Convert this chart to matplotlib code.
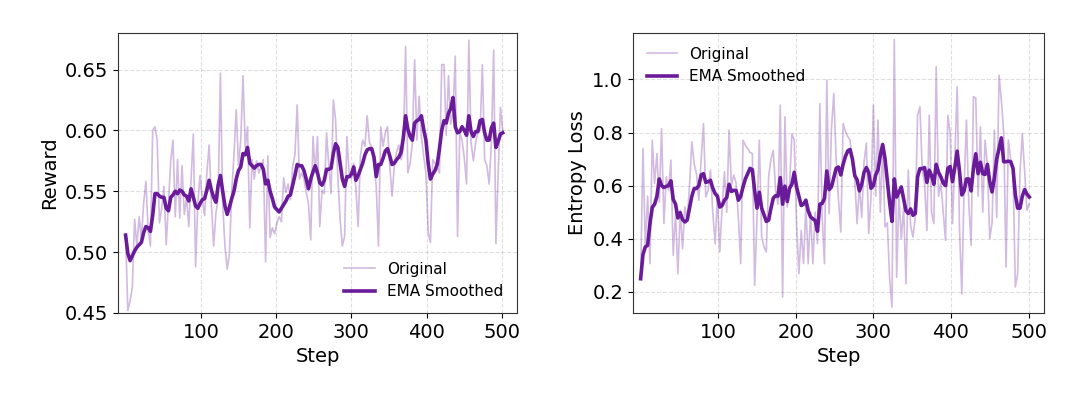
import numpy as np
import matplotlib
matplotlib.use("Agg")
import matplotlib.pyplot as plt

# training steps (shared by both panels)
steps = list(range(0, 502, 3))

# reward: raw values and EMA-smoothed values
reward_raw = [
    0.514, 0.452, 0.460, 0.471, 0.527, 0.505, 0.529, 0.511, 0.540, 0.558,
    0.518, 0.505, 0.600, 0.603, 0.592, 0.524, 0.536, 0.554, 0.506, 0.540,
    0.575, 0.592, 0.529, 0.576, 0.528, 0.571, 0.531, 0.545, 0.521, 0.560,
    0.597, 0.488, 0.540, 0.563, 0.543, 0.530, 0.565, 0.588, 0.540, 0.505,
    0.532, 0.545, 0.647, 0.540, 0.505, 0.486, 0.499, 0.549, 0.580, 0.617,
    0.571, 0.592, 0.645, 0.586, 0.603, 0.520, 0.576, 0.560, 0.575, 0.565,
    0.570, 0.576, 0.492, 0.579, 0.512, 0.520, 0.515, 0.524, 0.529, 0.525,
    0.561, 0.549, 0.556, 0.543, 0.571, 0.580, 0.621, 0.560, 0.565, 0.560,
    0.549, 0.540, 0.510, 0.595, 0.565, 0.595, 0.521, 0.551, 0.548, 0.598,
    0.571, 0.548, 0.625, 0.609, 0.562, 0.527, 0.505, 0.513, 0.595, 0.565,
    0.560, 0.573, 0.552, 0.521, 0.579, 0.592, 0.587, 0.612, 0.590, 0.586,
    0.574, 0.554, 0.505, 0.603, 0.587, 0.598, 0.603, 0.571, 0.546, 0.571,
    0.582, 0.588, 0.576, 0.585, 0.669, 0.565, 0.573, 0.590, 0.658, 0.592,
    0.628, 0.595, 0.579, 0.565, 0.516, 0.508, 0.576, 0.573, 0.570, 0.565,
    0.654, 0.654, 0.596, 0.645, 0.605, 0.616, 0.661, 0.513, 0.598, 0.592,
    0.577, 0.556, 0.674, 0.590, 0.575, 0.590, 0.598, 0.600, 0.654, 0.576,
    0.571, 0.556, 0.590, 0.666, 0.507, 0.565, 0.619, 0.600,
]
reward_ema = [
    0.514, 0.499, 0.493, 0.497, 0.501, 0.504, 0.506, 0.508, 0.516, 0.521,
    0.520, 0.517, 0.530, 0.548, 0.548, 0.546, 0.545, 0.545, 0.536, 0.534,
    0.545, 0.547, 0.550, 0.548, 0.551, 0.550, 0.547, 0.546, 0.542, 0.552,
    0.545, 0.538, 0.536, 0.540, 0.543, 0.544, 0.551, 0.559, 0.551, 0.545,
    0.541, 0.555, 0.563, 0.550, 0.538, 0.531, 0.537, 0.544, 0.550, 0.560,
    0.567, 0.570, 0.581, 0.580, 0.586, 0.573, 0.571, 0.569, 0.571, 0.572,
    0.572, 0.568, 0.556, 0.559, 0.550, 0.544, 0.537, 0.535, 0.533, 0.536,
    0.539, 0.542, 0.546, 0.547, 0.555, 0.563, 0.572, 0.571, 0.571, 0.567,
    0.560, 0.552, 0.560, 0.566, 0.571, 0.565, 0.557, 0.555, 0.559, 0.568,
    0.568, 0.569, 0.581, 0.589, 0.586, 0.573, 0.560, 0.554, 0.562, 0.562,
    0.564, 0.570, 0.559, 0.563, 0.568, 0.573, 0.580, 0.584, 0.585, 0.585,
    0.578, 0.562, 0.572, 0.572, 0.577, 0.583, 0.585, 0.579, 0.572, 0.573,
    0.576, 0.578, 0.582, 0.594, 0.612, 0.601, 0.595, 0.592, 0.606, 0.608,
    0.609, 0.612, 0.601, 0.592, 0.573, 0.560, 0.564, 0.567, 0.572, 0.585,
    0.600, 0.608, 0.606, 0.614, 0.618, 0.627, 0.603, 0.598, 0.599, 0.603,
    0.600, 0.596, 0.612, 0.599, 0.595, 0.599, 0.599, 0.608, 0.609, 0.598,
    0.592, 0.592, 0.602, 0.606, 0.586, 0.591, 0.597, 0.598,
]

# entropy loss: raw values and EMA-smoothed values
entropy_raw = [
    0.250, 0.740, 0.370, 0.560, 0.306, 0.771, 0.608, 0.721, 0.538, 0.815,
    0.457, 0.633, 0.582, 0.696, 0.337, 0.500, 0.268, 0.507, 0.362, 0.520,
    0.469, 0.600, 0.765, 0.683, 0.645, 0.545, 0.700, 0.834, 0.557, 0.582,
    0.658, 0.500, 0.381, 0.560, 0.350, 0.520, 0.652, 0.500, 0.809, 0.600,
    0.640, 0.610, 0.480, 0.306, 0.771, 0.752, 0.740, 0.725, 0.721, 0.224,
    0.480, 0.771, 0.406, 0.369, 0.350, 0.633, 0.700, 0.733, 0.582, 0.530,
    0.903, 0.180, 0.859, 0.519, 0.600, 0.796, 0.771, 0.457, 0.268, 0.431,
    0.306, 0.530, 0.306, 0.500, 0.306, 0.500, 0.381, 0.909, 0.482, 0.306,
    0.997, 0.494, 0.815, 0.947, 0.700, 0.550, 0.425, 0.834, 0.803, 0.785,
    0.771, 0.680, 0.626, 0.457, 0.600, 0.480, 0.689, 0.760, 0.419, 0.560,
    0.903, 0.560, 0.847, 0.500, 0.758, 0.444, 0.460, 0.249, 0.142, 1.150,
    0.255, 0.560, 0.400, 0.520, 0.230, 0.658, 0.450, 0.406, 0.480, 0.865,
    0.897, 0.658, 0.610, 0.431, 0.865, 0.500, 0.457, 1.048, 0.560, 0.610,
    0.500, 0.394, 0.865, 0.800, 0.457, 0.700, 0.972, 0.440, 0.192, 0.600,
    0.847, 0.530, 0.375, 0.935, 0.930, 0.560, 0.821, 0.500, 0.771, 0.680,
    0.400, 0.460, 0.809, 0.480, 1.016, 0.922, 0.800, 0.293, 0.771, 0.700,
    0.660, 0.218, 0.268, 0.650, 0.796, 0.650, 0.507, 0.532,
]
entropy_ema = [
    0.249, 0.340, 0.369, 0.375, 0.456, 0.518, 0.530, 0.560, 0.625, 0.600,
    0.593, 0.597, 0.600, 0.618, 0.548, 0.530, 0.478, 0.498, 0.472, 0.463,
    0.470, 0.515, 0.560, 0.589, 0.589, 0.600, 0.640, 0.645, 0.612, 0.615,
    0.620, 0.590, 0.570, 0.560, 0.519, 0.525, 0.545, 0.555, 0.605, 0.578,
    0.582, 0.582, 0.545, 0.560, 0.595, 0.625, 0.645, 0.665, 0.660, 0.580,
    0.515, 0.575, 0.515, 0.490, 0.465, 0.470, 0.515, 0.553, 0.562, 0.560,
    0.630, 0.530, 0.598, 0.540, 0.590, 0.605, 0.650, 0.595, 0.560, 0.525,
    0.530, 0.545, 0.505, 0.482, 0.475, 0.468, 0.428, 0.530, 0.533, 0.552,
    0.655, 0.585, 0.595, 0.630, 0.665, 0.670, 0.640, 0.680, 0.710, 0.731,
    0.736, 0.700, 0.638, 0.622, 0.580, 0.605, 0.650, 0.668, 0.650, 0.590,
    0.600, 0.640, 0.660, 0.715, 0.755, 0.702, 0.620, 0.535, 0.465, 0.625,
    0.557, 0.575, 0.595, 0.550, 0.505, 0.495, 0.512, 0.488, 0.495, 0.633,
    0.664, 0.664, 0.668, 0.612, 0.658, 0.638, 0.605, 0.680, 0.650, 0.633,
    0.610, 0.600, 0.665, 0.672, 0.615, 0.668, 0.730, 0.655, 0.565, 0.580,
    0.625, 0.625, 0.580, 0.665, 0.720, 0.645, 0.688, 0.645, 0.642, 0.680,
    0.615, 0.576, 0.630, 0.700, 0.740, 0.780, 0.690, 0.690, 0.692, 0.690,
    0.665, 0.565, 0.515, 0.515, 0.560, 0.585, 0.568, 0.557,
]

PURPLE = "#6a1b9a"

fig = plt.figure(figsize=(10.8, 3.93), dpi=100)
ax1 = fig.add_axes([0.1093, 0.2036, 0.3694, 0.7124])
ax2 = fig.add_axes([0.586, 0.2036, 0.3807, 0.7124])

panels = [
    (ax1, reward_raw, reward_ema, "Reward", (0.45, 0.68), [0.45, 0.50, 0.55, 0.60, 0.65], "lower right"),
    (ax2, entropy_raw, entropy_ema, "Entropy Loss", (0.12, 1.175), [0.2, 0.4, 0.6, 0.8, 1.0], "upper left"),
]
for ax, raw, ema, ylab, ylim, yt, loc in panels:
    ax.plot(steps, raw, color=PURPLE, alpha=0.3, lw=1.2, label="Original")
    ax.plot(steps, ema, color=PURPLE, lw=2.6, label="EMA Smoothed")
    ax.set_xlim(-10, 520)
    ax.set_ylim(*ylim)
    ax.set_xticks([100, 200, 300, 400, 500])
    ax.set_yticks(yt)
    if ylab == "Reward":
        ax.set_yticklabels([f"{v:.2f}" for v in yt])
    else:
        ax.set_yticklabels([f"{v:.1f}" for v in yt])
    ax.tick_params(labelsize=14)
    ax.set_xlabel("Step", fontsize=14)
    ax.set_ylabel(ylab, fontsize=14)
    ax.grid(True, ls="--", color="gray", alpha=0.25, lw=0.8)
    for s in ax.spines.values():
        s.set_color("#333333")
    ax.legend(loc=loc, fontsize=11, frameon=False)

fig.savefig("out.png", dpi=100)
